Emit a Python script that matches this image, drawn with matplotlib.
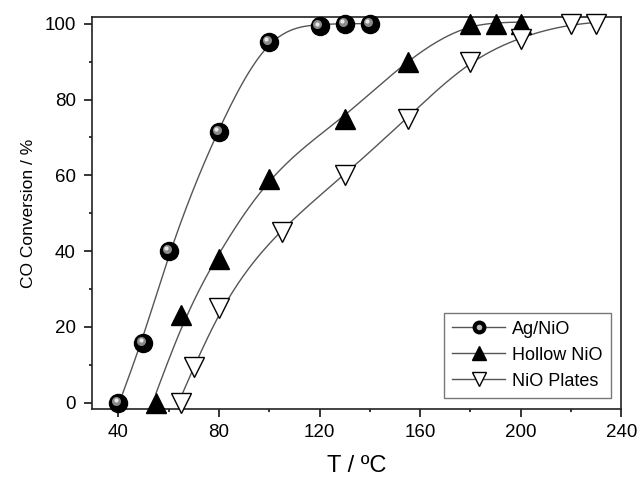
import numpy as np
import matplotlib.pyplot as plt
from matplotlib.lines import Line2D
from matplotlib.transforms import offset_copy
from matplotlib.ticker import MultipleLocator

plt.rcParams['font.family'] = ['Liberation Sans', 'DejaVu Sans']

# CO conversion data
ag_T = [40, 50, 60, 80, 100, 120, 130, 140]
ag_conv = [0, 15.7, 40, 71.4, 95.3, 99.3, 100, 100]

hollow_T = [55, 65, 80, 100, 130, 155, 180, 190, 200]
hollow_conv = [0, 23, 38, 59, 75, 90, 100, 100, 100]

plates_T = [65, 70, 80, 105, 130, 155, 180, 200, 220, 230]
plates_conv = [0, 9.5, 25, 45, 60, 75, 90, 96, 100, 100]


def smooth_curve(x, y, lam=200.0, step=0.5):
    # penalised (smoothing-spline like) curve on a fine grid
    x = np.asarray(x, float)
    y = np.asarray(y, float)
    grid = np.arange(x[0], x[-1] + step / 2, step)
    n = len(grid)
    S = np.zeros((len(x), n))
    S[np.arange(len(x)), np.rint((x - x[0]) / step).astype(int)] = 1
    D = np.diff(np.eye(n), 2, axis=0) / step**2
    A = S.T @ S + lam * step * D.T @ D
    f = np.linalg.solve(A, S.T @ y)
    return grid, f


fig = plt.figure(figsize=(6.41, 4.86), dpi=100)
ax = fig.add_axes([0.143, 0.158, 0.8263, 0.8078])

line_col = '#555555'
for T, c, lam in [(ag_T, ag_conv, 200), (hollow_T, hollow_conv, 600), (plates_T, plates_conv, 600)]:
    xs, ys = smooth_curve(T, c, lam)
    ax.plot(xs, ys, color=line_col, lw=1.0, zorder=1)

# shaded spheres for Ag/NiO
ax.plot(ag_T, ag_conv, 'o', color='black', ms=13, zorder=3, clip_on=False)
hl = offset_copy(ax.transData, fig=fig, x=-1.5, y=1.5, units='points')
ax.plot(ag_T, ag_conv, 'o', color='#8a8a8a', mec='none', ms=6.5, transform=hl, zorder=4, clip_on=False)
hl2 = offset_copy(ax.transData, fig=fig, x=-2.0, y=2.0, units='points')
ax.plot(ag_T, ag_conv, 'o', color='#e8e8e8', mec='none', ms=3, transform=hl2, zorder=5, clip_on=False)

ax.plot(hollow_T, hollow_conv, '^', color='black', ms=14, zorder=3, clip_on=False)
ax.plot(plates_T, plates_conv, 'v', mfc='white', mec='black', mew=1.0, ms=14, zorder=3, clip_on=False)

ax.set_xlim(29.4, 240)
ax.set_ylim(-1.75, 101.9)
ax.xaxis.set_major_locator(MultipleLocator(40))
ax.xaxis.set_minor_locator(MultipleLocator(20))
ax.yaxis.set_major_locator(MultipleLocator(20))
ax.yaxis.set_minor_locator(MultipleLocator(10))
ax.tick_params(which='both', direction='out', top=False, right=False, width=1.1, labelsize=13.5)
ax.tick_params(which='major', length=5.5)
ax.tick_params(which='minor', length=2.5)
ax.tick_params(axis='y', which='major', pad=6)
ax.tick_params(axis='x', which='major', pad=5)
for s in ax.spines.values():
    s.set_linewidth(1.2)
    s.set_color('#222222')

ax.set_xlabel('T / ºC', fontsize=17, labelpad=10)
ax.set_ylabel('CO Conversion / %', fontsize=12.5, labelpad=6)

h_ag = Line2D([], [], color=line_col, lw=1.0, marker='o', mfc='black', mec='black', ms=9)
h_ag2 = Line2D([], [], ls='none', marker='o', mfc='#bbbbbb', mec='none', ms=4)
h_ho = Line2D([], [], color=line_col, lw=1.0, marker='^', mfc='black', mec='black', ms=10)
h_pl = Line2D([], [], color=line_col, lw=1.0, marker='v', mfc='white', mec='black', ms=10)
leg = ax.legend([(h_ag, h_ag2), h_ho, h_pl], ['Ag/NiO', 'Hollow NiO', 'NiO Plates'],
                loc='lower right', bbox_to_anchor=(0.99, 0.015), fontsize=13, frameon=True,
                fancybox=False, edgecolor='#555555', handlelength=2.9, handletextpad=0.4,
                borderpad=0.45, labelspacing=0.5, borderaxespad=0.3)
leg.get_frame().set_linewidth(1.0)

fig.savefig('out.png', dpi=100)
